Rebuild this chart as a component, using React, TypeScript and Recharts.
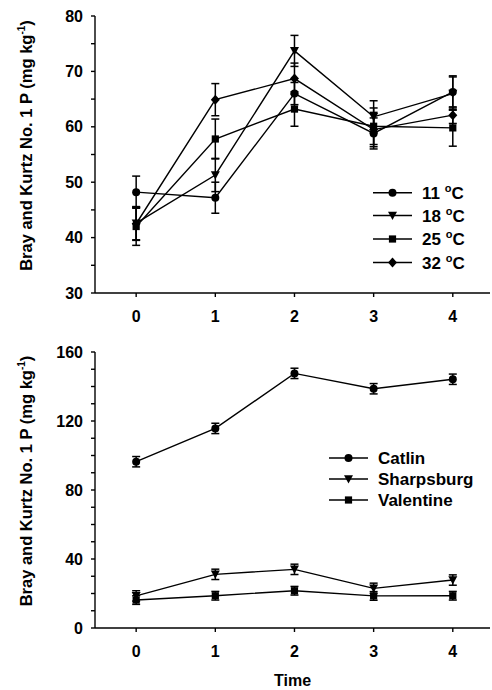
import React from 'react';
import { LineChart, Line, XAxis, YAxis, ErrorBar, Legend } from 'recharts';

const FONT = '"Liberation Sans", Arial, Helvetica, sans-serif';

// ---------- data ----------
const times = [0, 1, 2, 3, 4];

// panel a (temperature)
const tempNames = ['11', '18', '25', '32'];
const a11 = [48.2, 47.2, 66.0, 58.8, 66.3];
const a11Err = [2.9, 2.8, 2.0, 2.8, 2.9];
const a18 = [42.6, 51.3, 73.7, 61.8, 66.0];
const a18Err = [3.0, 3.0, 2.8, 2.9, 3.0];
const a25 = [42.0, 57.8, 63.2, 60.1, 59.8];
const a25Err = [3.4, 3.6, 3.1, 3.3, 3.3];
const a32 = [42.5, 64.9, 68.7, 59.5, 62.1];
const a32Err = [3.0, 2.9, 2.8, 3.1, 1.5];

// panel b (soils)
const soilNames = ['Catlin', 'Sharpsburg', 'Valentine'];
const catlin = [96.4, 115.7, 147.6, 138.7, 144.2];
const catlinErr = [3.0, 3.0, 3.0, 3.0, 3.0];
const sharpsburg = [18.6, 31.1, 34.0, 23.0, 27.8];
const sharpsburgErr = [3.0, 3.0, 3.0, 3.0, 3.0];
const valentine = [16.2, 18.7, 21.6, 18.6, 18.7];
const valentineErr = [2.5, 2.5, 2.5, 2.5, 2.5];

const yTicksA = [30, 35, 40, 45, 50, 55, 60, 65, 70, 75, 80];
const yTicksB = [0, 10, 20, 30, 40, 50, 60, 70, 80, 90, 100, 110, 120, 130, 140, 150, 160];

const dataA = times.map((t, i) => ({
  t,
  a11: a11[i], e11: a11Err[i],
  a18: a18[i], e18: a18Err[i],
  a25: a25[i], e25: a25Err[i],
  a32: a32[i], e32: a32Err[i],
}));

const dataB = times.map((t, i) => ({
  t,
  catlin: catlin[i], eCatlin: catlinErr[i],
  sharpsburg: sharpsburg[i], eSharpsburg: sharpsburgErr[i],
  valentine: valentine[i], eValentine: valentineErr[i],
}));

type Shape = 'circle' | 'triangle' | 'square' | 'diamond';

function Marker({ shape, cx, cy }: { shape: Shape; cx: number; cy: number }) {
  if (cx == null || cy == null) return null;
  if (shape === 'circle') return <circle cx={cx} cy={cy} r={4} fill="#000" />;
  if (shape === 'triangle')
    return <polygon points={`${cx - 4.5},${cy - 3.8} ${cx + 4.5},${cy - 3.8} ${cx},${cy + 4.5}`} fill="#000" />;
  if (shape === 'square') return <rect x={cx - 3.6} y={cy - 3.6} width={7.2} height={7.2} fill="#000" />;
  return <polygon points={`${cx},${cy - 5} ${cx + 4.5},${cy} ${cx},${cy + 5} ${cx - 4.5},${cy}`} fill="#000" />;
}

const dotFor = (shape: Shape) => (props: any) => (
  <Marker key={`${shape}-${props.index}`} shape={shape} cx={props.cx} cy={props.cy} />
);

const tickStyle = { fontFamily: FONT, fontSize: 16, fontWeight: 700, fill: '#000' };

function YTitle(props: any, shift: number) {
  const vb = props.viewBox || {};
  const cy = vb.y + vb.height / 2 + shift;
  const x = 32;
  return (
    <text
      x={x}
      y={cy}
      transform={`rotate(-90, ${x}, ${cy})`}
      textAnchor="middle"
      fontFamily={FONT}
      fontSize={16.5}
      fontWeight={700}
      fill="#000"
    >
      Bray and Kurtz No. 1 P (mg kg
      <tspan dy={-7} fontSize={10}>-1</tspan>
      <tspan dy={7}>)</tspan>
    </text>
  );
}

function PanelLetter(props: any, letter: string, x: number, y: number) {
  return (
    <text x={x} y={y} fontFamily={FONT} fontSize={27} fontWeight={700} fill="#000">
      {letter}
    </text>
  );
}

function LegendBox({ rows, lineX1, lineX2, textX, ys, fontSize, superscript }: any) {
  return (
    <svg width={200} height={110} style={{ overflow: 'visible', display: 'block' }}>
      {rows.map((r: any, i: number) => (
        <g key={i}>
          <line x1={lineX1} x2={lineX2} y1={ys[i]} y2={ys[i]} stroke="#000" strokeWidth={1.4} />
          <Marker shape={r.shape} cx={(lineX1 + lineX2) / 2} cy={ys[i]} />
          <text
            x={textX}
            y={ys[i] + 6}
            fontFamily={FONT}
            fontSize={fontSize}
            fontWeight={700}
            fill="#000"
          >
            {superscript ? (
              <>
                {r.label + ' '}
                <tspan dy={-7} fontSize={11}>o</tspan>
                <tspan dy={7}>C</tspan>
              </>
            ) : (
              r.label
            )}
          </text>
        </g>
      ))}
    </svg>
  );
}

const shapesA: Shape[] = ['circle', 'triangle', 'square', 'diamond'];
const shapesB: Shape[] = ['circle', 'triangle', 'square'];

const legendRowsA = tempNames.map((n, i) => ({ label: n, shape: shapesA[i] }));
const legendRowsB = soilNames.map((n, i) => ({ label: n, shape: shapesB[i] }));

const lineProps = {
  type: 'linear' as const,
  stroke: '#000',
  strokeWidth: 1.4,
  isAnimationActive: false,
  legendType: 'none' as const,
};

const errProps = {
  width: 4,
  stroke: '#000',
  strokeWidth: 1.5,
  direction: 'y' as const,
};

export default function App() {
  return (
    <div style={{ position: 'absolute', left: 0, top: 0, width: 492, height: 690, background: '#fff' }}>
      <div style={{ position: 'absolute', left: 0, top: 0 }}>
        <LineChart width={492} height={330} data={dataA} margin={{ top: 16, right: 2, left: 0, bottom: 0 }}>
          <XAxis
            dataKey="t"
            type="number"
            domain={[-0.52, 4.47]}
            ticks={times}
            allowDataOverflow
            tickSize={4}
            tickMargin={14}
            height={37}
            stroke="#000"
            strokeWidth={1.4}
            tick={tickStyle}
          />
          <XAxis xAxisId="top" orientation="top" dataKey="t" type="number" domain={[-0.52, 4.47]} height={0} tick={false} tickLine={false} stroke="#000" strokeWidth={1.4} />
          <YAxis
            domain={[30, 80]}
            ticks={yTicksA}
            tickFormatter={(v: number) => (v % 10 === 0 ? String(v) : '')}
            interval={0}
            width={95}
            tickSize={4}
            tickMargin={8}
            stroke="#000"
            strokeWidth={1.4}
            tick={tickStyle}
            label={{ content: (p: any) => YTitle(p, -9) }}
          />
          <YAxis
            yAxisId="right"
            orientation="right"
            domain={[30, 80]}
            width={0}
            tick={false}
            tickLine={false}
            stroke="#000"
            strokeWidth={1.4}
            label={{ content: (p: any) => PanelLetter(p, 'a', 112, 52) }}
          />
          <Legend
            layout="horizontal"
            verticalAlign="middle"
            align="center"
            wrapperStyle={{ left: 372, top: 181, width: 120, height: 95 }}
            content={() => (
              <LegendBox rows={legendRowsA} lineX1={1} lineX2={40} textX={50} ys={[11.7, 34.5, 58, 81.5]} fontSize={17} superscript />
            )}
          />
          <Line dataKey="a11" {...lineProps} dot={dotFor('circle')}>
            <ErrorBar dataKey="e11" {...errProps} />
          </Line>
          <Line dataKey="a18" {...lineProps} dot={dotFor('triangle')}>
            <ErrorBar dataKey="e18" {...errProps} />
          </Line>
          <Line dataKey="a25" {...lineProps} dot={dotFor('square')}>
            <ErrorBar dataKey="e25" {...errProps} />
          </Line>
          <Line dataKey="a32" {...lineProps} dot={dotFor('diamond')}>
            <ErrorBar dataKey="e32" {...errProps} />
          </Line>
        </LineChart>
      </div>
      <div style={{ position: 'absolute', left: 0, top: 330 }}>
        <LineChart width={492} height={360} data={dataB} margin={{ top: 22, right: 2, left: 0, bottom: 0 }}>
          <XAxis
            dataKey="t"
            type="number"
            domain={[-0.52, 4.47]}
            ticks={times}
            allowDataOverflow
            tickSize={4}
            tickMargin={14}
            height={62}
            stroke="#000"
            strokeWidth={1.4}
            tick={tickStyle}
            label={{ value: 'Time', position: 'insideBottom', offset: 4, fill: '#000', fontFamily: FONT, fontSize: 16, fontWeight: 700 }}
          />
          <XAxis xAxisId="top" orientation="top" dataKey="t" type="number" domain={[-0.52, 4.47]} height={0} tick={false} tickLine={false} stroke="#000" strokeWidth={1.4} />
          <YAxis
            domain={[0, 160]}
            ticks={yTicksB}
            tickFormatter={(v: number) => (v % 40 === 0 ? String(v) : '')}
            interval={0}
            width={95}
            tickSize={4}
            tickMargin={8}
            stroke="#000"
            strokeWidth={1.4}
            tick={tickStyle}
            label={{ content: (p: any) => YTitle(p, -9) }}
          />
          <YAxis
            yAxisId="right"
            orientation="right"
            domain={[0, 160]}
            width={0}
            tick={false}
            tickLine={false}
            stroke="#000"
            strokeWidth={1.4}
            label={{ content: (p: any) => PanelLetter(p, 'b', 115, 63) }}
          />
          <Legend
            layout="horizontal"
            verticalAlign="middle"
            align="center"
            wrapperStyle={{ left: 328, top: 117, width: 160, height: 80 }}
            content={() => (
              <LegendBox rows={legendRowsB} lineX1={1} lineX2={40} textX={50} ys={[11, 32, 53]} fontSize={17} />
            )}
          />
          <Line dataKey="catlin" {...lineProps} dot={dotFor('circle')}>
            <ErrorBar dataKey="eCatlin" {...errProps} />
          </Line>
          <Line dataKey="sharpsburg" {...lineProps} dot={dotFor('triangle')}>
            <ErrorBar dataKey="eSharpsburg" {...errProps} />
          </Line>
          <Line dataKey="valentine" {...lineProps} dot={dotFor('square')}>
            <ErrorBar dataKey="eValentine" {...errProps} />
          </Line>
        </LineChart>
      </div>
    </div>
  );
}
